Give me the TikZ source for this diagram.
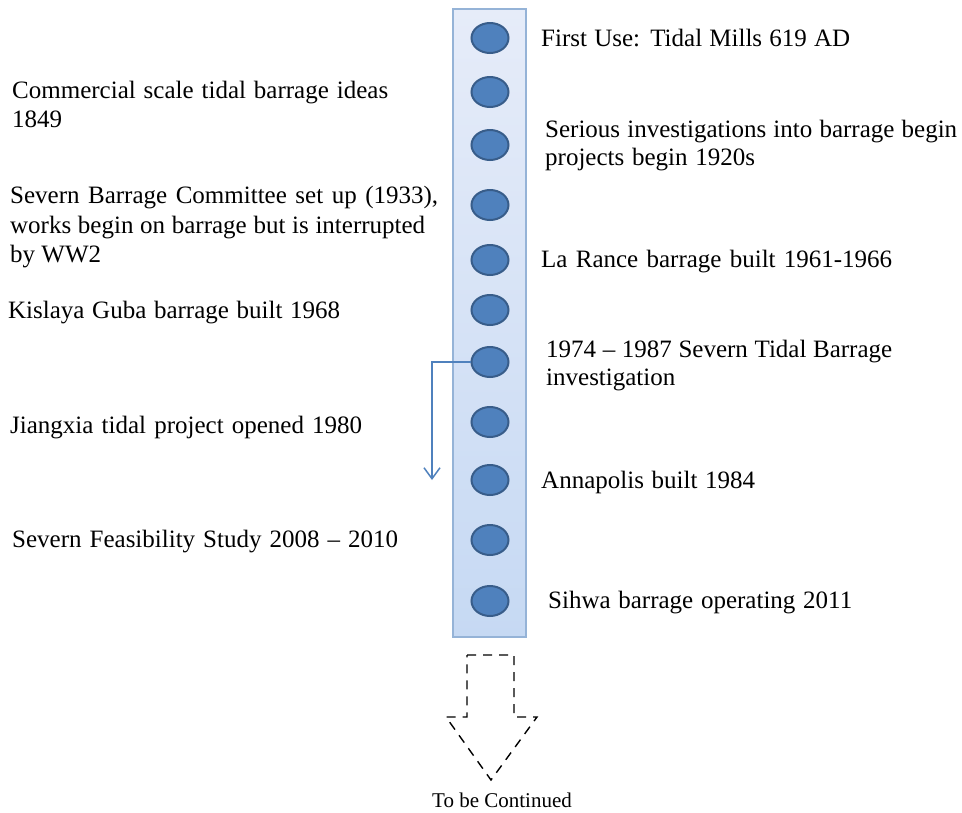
\documentclass[tikz,border=0pt]{standalone}
\usepackage{fontspec}
\setmainfont{Liberation Serif}
\usetikzlibrary{shapes.geometric,arrows.meta}

\definecolor{barTop}{HTML}{E6ECF9}
\definecolor{barBot}{HTML}{C6D9F3}
\definecolor{barEdge}{HTML}{95B3D7}
\definecolor{dotFill}{HTML}{4F81BD}
\definecolor{dotEdge}{HTML}{385D8A}
\definecolor{linkBlue}{HTML}{4F81BD}

% one line of text spread to a given width
\newcommand\spreadline[2]{\makebox[#1pt][s]{#2}}

\begin{document}
\begin{tikzpicture}[x=1pt,y=-1pt,
  event/.style={anchor=base west, inner sep=0pt, font=\fontsize{25}{29}\selectfont, text=black},
  dot/.style={ellipse, draw=dotEdge, line width=2pt, fill=dotFill,
    minimum width=37pt, minimum height=30pt, inner sep=0pt},
  timebar/.style={draw=barEdge, line width=2pt, top color=barTop, bottom color=barBot,
    minimum width=73pt, minimum height=628pt, inner sep=0pt},
  link/.style={draw=linkBlue, line width=1.5pt, -{Straight Barb[length=11pt,width=16pt]}},
  blockarrow/.style={draw=black, line width=1.4pt, dash pattern=on 9pt off 7pt, line join=miter}]

\useasboundingbox (0,0) rectangle (962,812);

% timeline bar
\node[timebar] (bar) at (489.5,323) {};

% event markers
\foreach \i/\yy in {1/38, 2/92, 3/145, 4/205, 5/260, 6/310, 7/362, 8/422, 9/480, 10/540, 11/601}
  \node[dot] (c\i) at (490,\yy) {};

% connector from the 1974 marker
\coordinate (tip) at (432,480);
\draw[link] (c7.west) -| (tip);

% left-hand events
\node[event] (l1a) at (12,98)  {\spreadline{376}{Commercial scale tidal barrage ideas}};
\node[event] (l1b) at (12,127) {1849};
\node[event] (l2a) at (10,203) {\spreadline{428}{Severn Barrage Committee set up (1933),}};
\node[event] (l2b) at (10,233) {\spreadline{415}{works begin on barrage but is interrupted}};
\node[event] (l2c) at (10,262) {by WW2};
\node[event] (l3)  at (8,318)  {\spreadline{332}{Kislaya Guba barrage built 1968}};
\node[event] (l4)  at (10,433) {\spreadline{352}{Jiangxia tidal project opened 1980}};
\node[event] (l5)  at (12,547) {\spreadline{386}{Severn Feasibility Study 2008 – 2010}};

% right-hand events
\node[event] (r1)  at (541,46)  {\spreadline{309}{First Use: Tidal Mills 619 AD}};
\node[event] (r2a) at (545,137) {\spreadline{412}{Serious investigations into barrage begin}};
\node[event] (r2b) at (545,165) {\spreadline{210}{projects begin 1920s}};
\node[event] (r3)  at (541,267) {\spreadline{351}{La Rance barrage built 1961-1966}};
\node[event] (r4a) at (546,357) {\spreadline{346}{1974 – 1987 Severn Tidal Barrage}};
\node[event] (r4b) at (546,385) {investigation};
\node[event] (r5)  at (541,488) {\spreadline{214}{Annapolis built 1984}};
\node[event] (r6)  at (548,608) {\spreadline{304}{Sihwa barrage operating 2011}};

% dashed continuation arrow
\draw[blockarrow] (467,655) -- (514,655) -- (514,717) -- (537,717) -- (491,780)
  -- (446,717) -- (467,717) -- cycle;
\node[anchor=base west, inner sep=0pt, font=\fontsize{21}{24}\selectfont] (more) at (432,807) {To be Continued};

\end{tikzpicture}
\end{document}
